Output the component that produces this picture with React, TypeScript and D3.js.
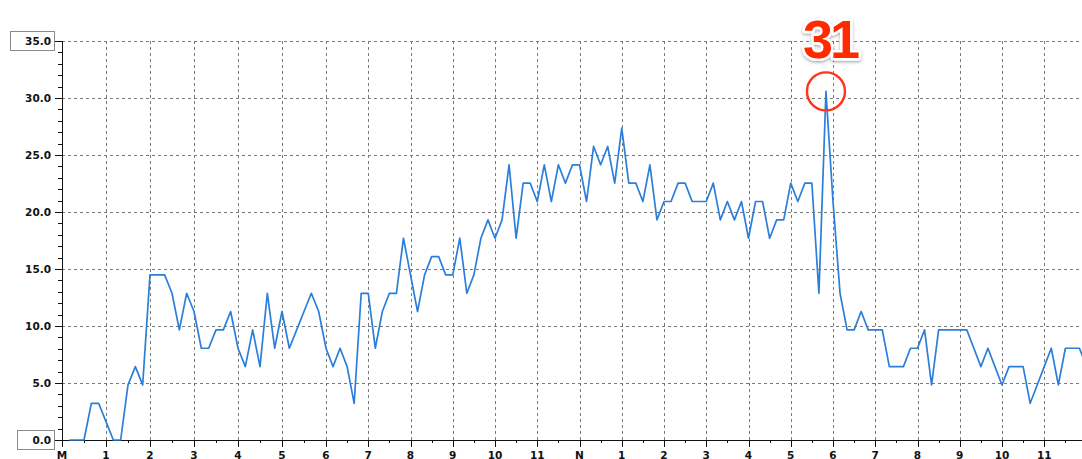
import * as d3 from 'd3';
import { useEffect, useRef } from 'react';

// подписи часов по оси X
const hourLabels = ['M', '1', '2', '3', '4', '5', '6', '7', '8', '9', '10', '11', 'N', '1', '2', '3', '4', '5', '6', '7', '8', '9', '10', '11'];

// значения с 0:10 до 11:50 (шаг 10 минут)
const amSpeeds = [
	0, 0, 0, 3.22, 3.22, 1.61, 0, 0, 4.83, 6.44,
	4.83, 14.48, 14.48, 14.48, 12.87, 9.66, 12.87, 11.27, 8.05, 8.05,
	9.66, 9.66, 11.27, 8.05, 6.44, 9.66, 6.44, 12.87, 8.05, 11.27,
	8.05, 9.66, 11.27, 12.87, 11.27, 8.05, 6.44, 8.05, 6.44, 3.22,
	12.87, 12.87, 8.05, 11.27, 12.87, 12.87, 17.7, 14.48, 11.27, 14.48,
	16.09, 16.09, 14.48, 14.48, 17.7, 12.87, 14.48, 17.7, 19.31, 17.7,
	19.31, 24.14, 17.7, 22.53, 22.53, 20.92, 24.14, 20.92, 24.14, 22.53,
	24.14,
];

// значения с 12:00 до 24:00
const pmSpeeds = [
	24.14, 20.92, 25.75, 24.14, 25.75, 22.53, 27.36, 22.53, 22.53,
	20.92, 24.14, 19.31, 20.92, 20.92, 22.53, 22.53, 20.92, 20.92, 20.92,
	22.53, 19.31, 20.92, 19.31, 20.92, 17.7, 20.92, 20.92, 17.7, 19.31,
	19.31, 22.53, 20.92, 22.53, 22.53, 12.87, 30.58, 20.92, 12.87, 9.66,
	9.66, 11.27, 9.66, 9.66, 9.66, 6.44, 6.44, 6.44, 8.05, 8.05,
	9.66, 4.83, 9.66, 9.66, 9.66, 9.66, 9.66, 8.05, 6.44, 8.05,
	6.44, 4.83, 6.44, 6.44, 6.44, 3.22, 4.83, 6.44, 8.05, 4.83,
	8.05, 8.05, 8.05, 6.44,
];

const firstMinute = 10;
const stepMinutes = 10;
const yTicks = [0, 5, 10, 15, 20, 25, 30, 35];
const boxedTicks = [0, 35];

export default function App() {
	const chartRef = useRef<SVGSVGElement>(null);

	useEffect(() => {
		const svg = d3.select(chartRef.current);
		svg.selectAll('*').remove();

		const width = 1082;
		const height = 459;
		const font = '"DejaVu Sans", Verdana, sans-serif';
		const gridColor = '#7a7a7a';

		const speeds = [...amSpeeds, ...pmSpeeds];
		const data = speeds.map((v, i) => ({ minute: firstMinute + i * stepMinutes, value: v }));

		// шкала времени: первые шесть часов на экране чуть шире
		const scaleX = d3.scaleLinear().domain([0, 360, 1440]).range([62, 326, 1086.5]);
		const scaleY = d3.scaleLinear().domain([0, 35]).range([440, 41]);

		const x0 = scaleX(0);
		const y0 = scaleY(0);
		const yTop = scaleY(35);

		svg.append('rect').attr('width', width).attr('height', height).attr('fill', '#fff');

		// сетка
		const grid = svg.append('g').attr('stroke', gridColor).attr('stroke-width', 1).attr('stroke-dasharray', '3,3');
		grid
			.selectAll('.hgrid')
			.data(yTicks.filter((t) => t > 0))
			.enter()
			.append('line')
			.attr('x1', x0)
			.attr('x2', width)
			.attr('y1', (d) => Math.round(scaleY(d)) + 0.5)
			.attr('y2', (d) => Math.round(scaleY(d)) + 0.5);
		grid
			.selectAll('.vgrid')
			.data(d3.range(1, 25))
			.enter()
			.append('line')
			.attr('x1', (d) => Math.round(scaleX(d * 60)) + 0.5)
			.attr('x2', (d) => Math.round(scaleX(d * 60)) + 0.5)
			.attr('y1', yTop)
			.attr('y2', y0);

		// оси
		const axes = svg.append('g').attr('stroke', '#111').attr('stroke-width', 1);
		axes.append('line').attr('x1', x0 + 0.5).attr('x2', x0 + 0.5).attr('y1', yTop).attr('y2', y0 + 7);
		axes.append('line').attr('x1', x0).attr('x2', width).attr('y1', y0 + 0.5).attr('y2', y0 + 0.5);

		axes
			.selectAll('.ytick')
			.data(d3.range(0, 36))
			.enter()
			.append('line')
			.attr('x1', (d) => (d % 5 === 0 ? x0 - 7 : x0 - 4))
			.attr('x2', x0)
			.attr('y1', (d) => Math.round(scaleY(d)) + 0.5)
			.attr('y2', (d) => Math.round(scaleY(d)) + 0.5);

		axes
			.selectAll('.xtick')
			.data(d3.range(1, 48))
			.enter()
			.append('line')
			.attr('x1', (d) => Math.round(scaleX(d * 30)) + 0.5)
			.attr('x2', (d) => Math.round(scaleX(d * 30)) + 0.5)
			.attr('y1', y0)
			.attr('y2', (d) => (d % 2 === 0 ? y0 + 7 : y0 + 3));

		// подписи оси Y
		const yLabels = svg.append('g');
		yLabels
			.selectAll('rect')
			.data(boxedTicks)
			.enter()
			.append('rect')
			.attr('x', (d) => (d === 0 ? 17.5 : 10.5))
			.attr('width', (d) => (d === 0 ? 37 : 44))
			.attr('y', (d) => scaleY(d) - 9.5)
			.attr('height', 19)
			.attr('fill', '#fff')
			.attr('stroke', '#8a8a8a');
		yLabels
			.selectAll('text')
			.data(yTicks)
			.enter()
			.append('text')
			.attr('x', 51)
			.attr('y', (d) => scaleY(d) + 4)
			.attr('text-anchor', 'end')
			.attr('font-family', font)
			.attr('font-weight', 'bold')
			.attr('font-size', 10.5)
			.attr('fill', '#111')
			.text((d) => d.toFixed(1));

		// подписи оси X (внизу обрезаны, как на исходнике)
		svg
			.append('g')
			.selectAll('text')
			.data(hourLabels)
			.enter()
			.append('text')
			.attr('x', (_, i) => scaleX(i * 60))
			.attr('y', 459)
			.attr('text-anchor', 'middle')
			.attr('font-family', font)
			.attr('font-weight', 'bold')
			.attr('font-size', 10.5)
			.attr('fill', '#111')
			.text((d) => d);

		// линия графика
		const line = d3
			.line<{ minute: number; value: number }>()
			.x((d) => scaleX(d.minute))
			.y((d) => scaleY(d.value));

		svg
			.append('path')
			.datum(data)
			.attr('d', line)
			.attr('fill', 'none')
			.attr('stroke', '#2b7fdb')
			.attr('stroke-width', 1.7)
			.attr('stroke-linejoin', 'round');

		// отметка максимума
		const peak = data.reduce((a, b) => (b.value > a.value ? b : a));
		const px = scaleX(peak.minute);
		const py = scaleY(peak.value);

		const defs = svg.append('defs');
		const filter = defs.append('filter').attr('id', 'shadow').attr('x', '-30%').attr('y', '-30%').attr('width', '160%').attr('height', '160%');
		filter
			.append('feDropShadow')
			.attr('dx', 0)
			.attr('dy', 1.5)
			.attr('stdDeviation', 1.5)
			.attr('flood-color', '#000')
			.attr('flood-opacity', 0.35);

		svg
			.append('circle')
			.attr('cx', px)
			.attr('cy', py)
			.attr('r', 19)
			.attr('fill', 'none')
			.attr('stroke', '#ff3418')
			.attr('stroke-width', 2.4);

		svg
			.append('text')
			.attr('x', px + 4)
			.attr('y', py - 33)
			.attr('text-anchor', 'middle')
			.attr('font-family', '"Liberation Sans", Arial, sans-serif')
			.attr('font-weight', 'bold')
			.attr('font-size', 54)
			.attr('letter-spacing', -3)
			.attr('fill', '#ff2a00')
			.attr('stroke', '#fff')
			.attr('stroke-width', 5)
			.attr('stroke-linejoin', 'round')
			.attr('paint-order', 'stroke')
			.attr('filter', 'url(#shadow)')
			.text(Math.round(peak.value));
	}, []);

	return (
		<div style={{ position: 'absolute', left: 0, top: 0 }}>
			<svg ref={chartRef} width={1082} height={459} style={{ display: 'block' }}></svg>
		</div>
	);
}
